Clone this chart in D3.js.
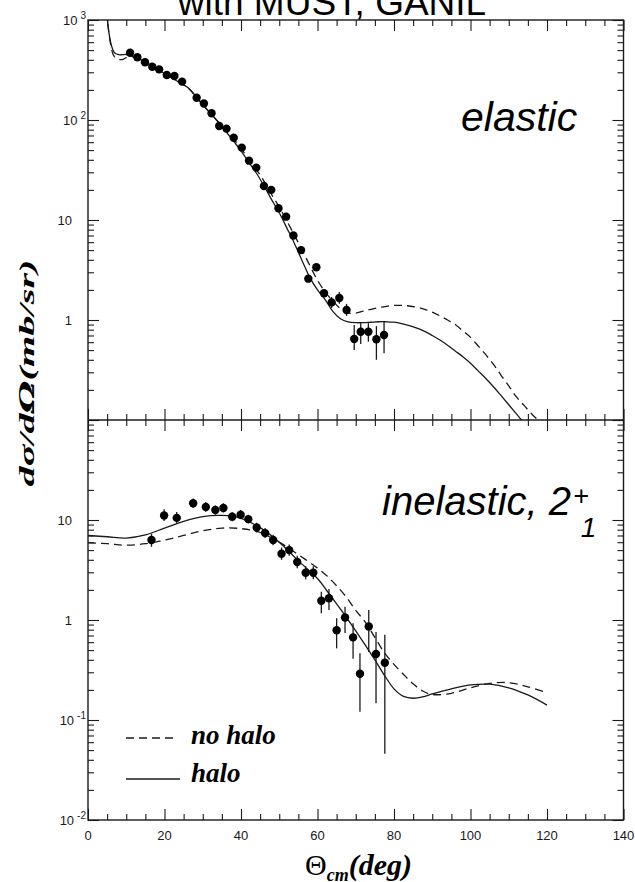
<!DOCTYPE html>
<html>
<head>
<meta charset="utf-8">
<script src="https://cdn.jsdelivr.net/npm/d3@7"></script>
<style>
  body { margin: 0; background: #fff; }
  svg { display: block; }
</style>
</head>
<body>
<svg id="chart" width="635" height="882"></svg>
<script>
// ---------- measured cross sections ----------
// elastic scattering (mb/sr)
const elasticTheta = [11.0, 12.9, 14.9, 16.8, 18.6, 20.6, 22.6, 24.6, 28.4, 30.3, 32.3, 34.3, 36.2, 38.1,
  40.2, 42.1, 44.0, 46.0, 47.9, 49.8, 51.8, 53.7, 55.7, 57.6, 59.7, 61.7, 63.7, 65.7, 67.6,
  69.6, 71.3, 73.3, 75.4, 77.4];
const elasticSigma = [471, 424, 378, 341, 321, 282, 275, 242, 167, 146, 117, 87, 82, 66.5,
  52.9, 39.2, 33.4, 21.9, 20, 13.1, 10.8, 7.0, 5.0, 2.59, 3.37, 1.85, 1.50, 1.66, 1.26,
  0.646, 0.764, 0.764, 0.641, 0.708];
const elasticErrLo = [null, null, null, null, null, null, null, null, null, null, null, null, null, null,
  null, null, null, null, null, null, null, null, null, null, null, null, 1.32, 1.45, 1.10,
  0.50, 0.575, 0.607, 0.40, 0.465];
const elasticErrHi = [null, null, null, null, null, null, null, null, null, null, null, null, null, null,
  null, null, null, null, null, null, null, null, null, null, null, null, 1.70, 1.90, 1.45,
  0.89, 0.93, 0.93, 0.87, 0.96];

// inelastic scattering to the first 2+ state (mb/sr)
const inelasticTheta = [16.6, 19.9, 23.2, 27.5, 30.8, 33.3, 35.4, 37.7, 39.9, 41.9, 44.1, 46.3, 48.4,
  50.6, 52.6, 54.7, 56.9, 58.9, 61.0, 63.0, 65.0, 67.2, 69.3, 71.1, 73.4, 75.3, 77.6];
const inelasticSigma = [6.3, 11.1, 10.5, 14.7, 13.5, 12.6, 13.2, 10.8, 11.3, 10.2, 8.4, 7.4, 6.3,
  4.6, 5.0, 3.8, 2.97, 2.97, 1.56, 1.65, 0.79, 1.06, 0.67, 0.29, 0.86, 0.457, 0.374];
const inelasticErrLo = [5.4, 9.8, 9.3, 13.2, 12.1, 11.3, 11.9, 9.7, 10.2, 9.2, 7.5, 6.6, 5.6,
  4.0, 4.4, 3.3, 2.55, 2.55, 1.17, 1.26, 0.52, 0.74, 0.41, 0.121, 0.48, 0.147, 0.046];
const inelasticErrHi = [7.3, 12.8, 12.0, 16.4, 15.1, 14.0, 14.7, 12.0, 12.6, 11.3, 9.4, 8.3, 7.1,
  5.3, 5.7, 4.4, 3.45, 3.45, 1.92, 2.04, 1.04, 1.36, 0.93, 0.465, 1.26, 0.76, 0.71];

// ---------- calculations ----------
const elasticCurveTheta = [4.5, 5, 5.5, 6, 6.5, 7, 8, 9, 10, 12, 14, 16, 18, 20, 22, 24, 26, 28, 30,
  32, 34, 36, 38, 40, 42, 44, 46, 48, 50, 52, 54, 56, 58, 60, 62, 64, 66, 68, 70, 72, 74, 76, 78,
  80, 82, 84, 86, 88, 90, 92, 94, 96, 98, 100, 102, 104, 106, 108, 110, 112, 114, 116, 118, 120];
const elasticHalo = [3000, 1100, 736, 580, 505, 468, 450, 450, 452, 432, 398, 360, 325, 292, 262, 236, 212, 176, 142,
  117, 96, 77, 62, 49, 38, 29.5, 22, 16, 11.8, 8.3, 5.8, 3.9, 2.65, 2.0, 1.6, 1.22, 1.03, 0.96, 0.94, 0.94, 0.95, 0.96, 0.96,
  0.95, 0.92, 0.88, 0.83, 0.77, 0.70, 0.63, 0.56, 0.49, 0.43, 0.37, 0.31, 0.26, 0.215, 0.175, 0.142, 0.115, 0.093, 0.075, 0.06, 0.048];
const elasticNoHalo = [3000, 1100, 720, 550, 460, 425, 404, 402, 420, 428, 398, 360, 325, 292, 262, 236, 212, 176, 142,
  117, 96, 78, 65, 52, 41, 32, 24.5, 18, 13.5, 9.8, 7.0, 5.0, 3.5, 2.5, 1.9, 1.55, 1.3, 1.18, 1.17, 1.23, 1.28, 1.33, 1.37,
  1.40, 1.40, 1.38, 1.34, 1.28, 1.2, 1.1, 1.0, 0.9, 0.78, 0.67, 0.55, 0.45, 0.36, 0.28, 0.22, 0.17, 0.14, 0.115, 0.097, 0.082];

const inelasticCurveTheta = [0, 5, 10, 15, 20, 25, 30, 35, 40, 45, 50, 55, 60, 62.5, 65, 67.5, 70, 72.5,
  75, 77.5, 80, 82.5, 85, 87.5, 90, 95, 100, 105, 110, 115, 120];
const inelasticHalo = [7.0, 6.8, 6.6, 7.1, 8.3, 9.7, 10.8, 11.1, 10.4, 8.4, 6.0, 3.9, 2.6, 1.95, 1.45, 1.07, 0.78, 0.56,
  0.40, 0.28, 0.205, 0.172, 0.165, 0.17, 0.182, 0.205, 0.224, 0.228, 0.21, 0.178, 0.141];
const inelasticNoHalo = [5.9, 5.8, 5.6, 5.8, 6.3, 7.0, 7.8, 8.3, 8.2, 7.5, 6.0, 4.5, 3.3, 2.75, 2.2, 1.7, 1.25, 0.95,
  0.67, 0.47, 0.36, 0.285, 0.23, 0.195, 0.18, 0.185, 0.21, 0.232, 0.236, 0.215, 0.188];

// ---------- axis labels ----------
const xTickValues = [0, 20, 40, 60, 80, 100, 120, 140];
const elasticTickValues = [1000, 100, 10, 1];
const elasticTickLabels = ["10^3", "10^2", "10", "1"];
const inelasticTickValues = [10, 1, 0.1, 0.01];
const inelasticTickLabels = ["10", "1", "10^-1", "10^-2"];

// ---------- layout ----------
const L = 88, R = 623.5, T = 20, M = 420, B = 820;
const svg = d3.select("#chart");
const ink = "#1a1a1a";

const x = d3.scaleLinear().domain([0, 140]).range([L, R]);
const yTop = d3.scaleLog().domain([0.1, 1000]).range([M, T]);
const yBot = d3.scaleLog().domain([0.01, 100]).range([B, M]);

const defs = svg.append("defs");
defs.append("clipPath").attr("id", "clipTop")
  .append("rect").attr("x", L).attr("y", T).attr("width", R - L).attr("height", M - T);
defs.append("clipPath").attr("id", "clipBot")
  .append("rect").attr("x", L).attr("y", M).attr("width", R - L).attr("height", B - M);

// ---------- axes (ticks pointing into the frame) ----------
const xMinor = d3.range(0, 141, 5).filter(v => v % 20 !== 0);
const isDecade = v => Math.abs(Math.log10(v) - Math.round(Math.log10(v))) < 1e-9;

function styleAxis(g) {
  g.select(".domain").remove();
  g.selectAll(".tick line").attr("stroke", ink).attr("stroke-width", 1.1);
  g.selectAll(".tick text").remove();
}

function xAxes(axisFn, y, size) {
  svg.append("g").attr("transform", `translate(0,${y})`)
    .call(axisFn(x).tickValues(xTickValues).tickSize(size).tickFormat(""))
    .call(styleAxis);
  svg.append("g").attr("transform", `translate(0,${y})`)
    .call(axisFn(x).tickValues(xMinor).tickSize(size * 0.55).tickFormat(""))
    .call(styleAxis);
}
xAxes(d3.axisTop, T, -11);
xAxes(d3.axisBottom, B, -11);
xAxes(d3.axisTop, M, 11);
xAxes(d3.axisBottom, M, 11);

function yAxes(scale) {
  const majors = scale.ticks().filter(isDecade);
  const minors = scale.ticks().filter(v => !isDecade(v));
  [[d3.axisLeft, L], [d3.axisRight, R]].forEach(([fn, xp]) => {
    svg.append("g").attr("transform", `translate(${xp},0)`)
      .call(fn(scale).tickValues(majors).tickSize(-11).tickFormat(""))
      .call(styleAxis);
    svg.append("g").attr("transform", `translate(${xp},0)`)
      .call(fn(scale).tickValues(minors).tickSize(-6).tickFormat(""))
      .call(styleAxis);
  });
}
yAxes(yTop);
yAxes(yBot);

// frame and panel divider
svg.append("rect").attr("x", L).attr("y", T).attr("width", R - L).attr("height", B - T)
  .attr("fill", "none").attr("stroke", ink).attr("stroke-width", 1.4);
svg.append("line").attr("x1", L).attr("x2", R).attr("y1", M).attr("y2", M)
  .attr("stroke", ink).attr("stroke-width", 1.6);

// ---------- tick labels ----------
const tickFont = "'Liberation Sans', Arial, Helvetica, sans-serif";
function yLabels(values, labels, scale) {
  values.forEach((v, i) => {
    const [base, exp] = labels[i].split("^");
    const t = svg.append("text")
      .attr("y", scale(v)).attr("dy", "0.36em")
      .attr("text-anchor", "end")
      .attr("font-family", tickFont).attr("font-size", 13).attr("fill", ink);
    if (exp !== undefined) {
      t.attr("x", 86);
      t.append("tspan").text(base);
      t.append("tspan").attr("dx", 3).attr("dy", -6).attr("font-size", 10).text(exp);
    } else {
      t.attr("x", 72).text(base);
    }
  });
}
yLabels(elasticTickValues, elasticTickLabels, yTop);
yLabels(inelasticTickValues, inelasticTickLabels, yBot);

svg.append("g").selectAll("text").data(xTickValues).join("text")
  .attr("x", d => x(d)).attr("y", 840)
  .attr("text-anchor", "middle")
  .attr("font-family", tickFont).attr("font-size", 13).attr("fill", ink)
  .text(d => d);

// ---------- curves ----------
function drawCurve(thetas, values, scale, clip, dashed) {
  const line = d3.line()
    .x((d, i) => x(thetas[i]))
    .y(d => scale(d))
    .curve(d3.curveCatmullRom.alpha(0.5));
  svg.append("path")
    .attr("clip-path", `url(#${clip})`)
    .attr("d", line(values))
    .attr("fill", "none")
    .attr("stroke", ink)
    .attr("stroke-width", 1.3)
    .attr("stroke-dasharray", dashed ? "8,5" : null);
}
drawCurve(elasticCurveTheta, elasticNoHalo, yTop, "clipTop", true);
drawCurve(elasticCurveTheta, elasticHalo, yTop, "clipTop", false);
drawCurve(inelasticCurveTheta, inelasticNoHalo, yBot, "clipBot", true);
drawCurve(inelasticCurveTheta, inelasticHalo, yBot, "clipBot", false);

// ---------- data points with error bars ----------
function drawPoints(thetas, values, lo, hi, scale) {
  const g = svg.append("g");
  thetas.forEach((th, i) => {
    if (lo[i] != null && hi[i] != null) {
      g.append("line")
        .attr("x1", x(th)).attr("x2", x(th))
        .attr("y1", scale(lo[i])).attr("y2", scale(hi[i]))
        .attr("stroke", ink).attr("stroke-width", 1.3);
    }
    g.append("circle").attr("cx", x(th)).attr("cy", scale(values[i]))
      .attr("r", 4.2).attr("fill", "#000");
  });
}
drawPoints(elasticTheta, elasticSigma, elasticErrLo, elasticErrHi, yTop);
drawPoints(inelasticTheta, inelasticSigma, inelasticErrLo, inelasticErrHi, yBot);

// ---------- panel captions ----------
const sans = "'Liberation Sans', Arial, Helvetica, sans-serif";
const serif = "'Liberation Serif', 'Times New Roman', Times, serif";

svg.append("text").attr("x", 332).attr("y", 15)
  .attr("text-anchor", "middle").attr("font-family", sans).attr("font-size", 37)
  .attr("fill", "#000").text("with MUST, GANIL");

svg.append("text").attr("x", 461).attr("y", 131)
  .attr("font-family", sans).attr("font-size", 41).attr("font-style", "italic")
  .attr("fill", "#000").text("elastic");

const inel = svg.append("text").attr("x", 382).attr("y", 515)
  .attr("font-family", sans).attr("font-size", 40).attr("font-style", "italic").attr("fill", "#000");
inel.append("tspan").text("inelastic, 2");
inel.append("tspan").attr("dy", -10).attr("dx", 2).attr("font-size", 27).text("+");
inel.append("tspan").attr("dy", 32).attr("dx", -8).attr("font-size", 28).text("1");

// ---------- legend ----------
svg.append("line").attr("x1", 126).attr("x2", 178).attr("y1", 738).attr("y2", 738)
  .attr("stroke", ink).attr("stroke-width", 1.3).attr("stroke-dasharray", "8,5");
svg.append("line").attr("x1", 126).attr("x2", 180).attr("y1", 779).attr("y2", 779)
  .attr("stroke", ink).attr("stroke-width", 1.3);
svg.append("text").attr("x", 191).attr("y", 744)
  .attr("font-family", serif).attr("font-size", 27).attr("font-weight", "bold").attr("font-style", "italic")
  .attr("fill", "#000").text("no halo");
svg.append("text").attr("x", 191).attr("y", 782)
  .attr("font-family", serif).attr("font-size", 27).attr("font-weight", "bold").attr("font-style", "italic")
  .attr("fill", "#000").text("halo");

// ---------- axis titles ----------
const yt = svg.append("text")
  .attr("transform", "translate(34,373) rotate(-90)")
  .attr("text-anchor", "middle")
  .attr("font-family", serif).attr("font-size", 22).attr("font-weight", "bold").attr("font-style", "italic")
  .attr("textLength", 227).attr("lengthAdjust", "spacingAndGlyphs")
  .attr("fill", "#000");
yt.append("tspan").text("dσ/d");
yt.append("tspan").attr("font-family", "'DejaVu Serif', serif").attr("font-size", 20).text("Ω");
yt.append("tspan").text("(mb/sr)");

const xt = svg.append("text").attr("x", 305).attr("y", 875)
  .attr("font-family", serif).attr("font-size", 30).attr("fill", "#000");
xt.append("tspan").text("Θ");
xt.append("tspan").attr("dy", 6).attr("font-size", 18).attr("font-weight", "bold").attr("font-style", "italic").text("cm");
xt.append("tspan").attr("dy", -6).attr("font-weight", "bold").attr("font-style", "italic").text("(deg)");
</script>
</body>
</html>
